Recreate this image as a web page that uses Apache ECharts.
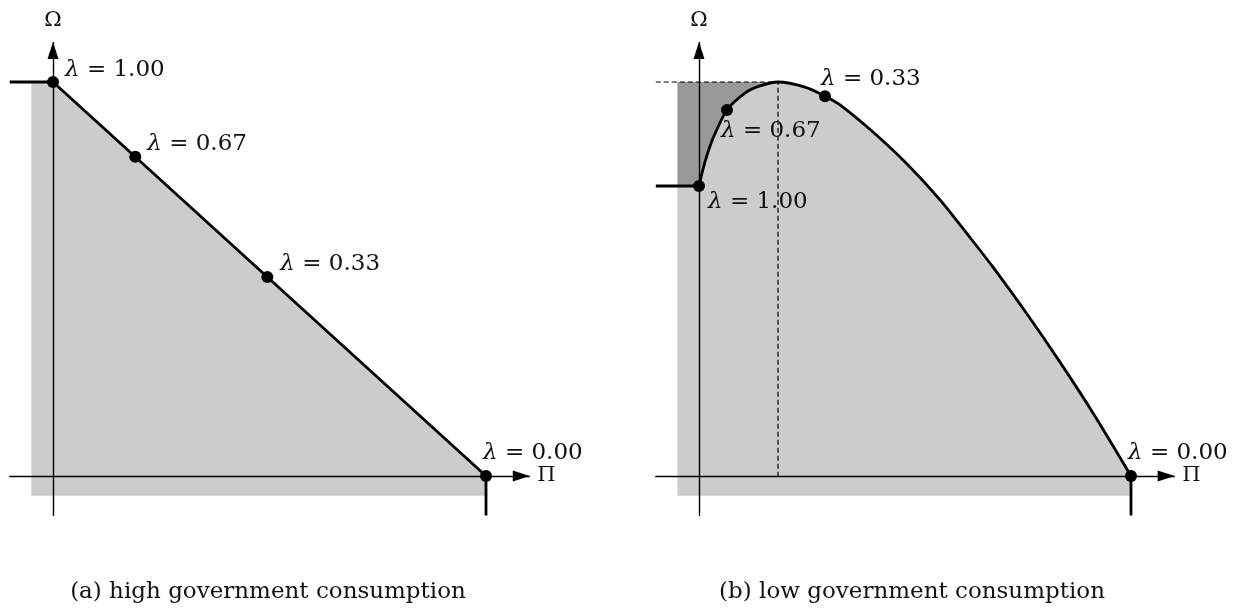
<!DOCTYPE html>
<html>
<head>
<meta charset="utf-8">
<script src="https://cdn.jsdelivr.net/npm/echarts@6/dist/echarts.min.js"></script>
<style>
  html, body { margin: 0; background: #fff; }
  #main { width: 1237px; height: 612px; }
</style>
</head>
<body>
<div id="main"></div>
<script>
// (a) high government consumption: straight frontier
var lineA_pi = [-0.1, 0, 1, 1];
var lineA_om = [1, 1, 0, -0.1];
var ptsA_pi = [0, 0.19, 0.495, 1];
var ptsA_om = [1, 0.81, 0.505, 0];
var ptsA_lam = ['1.00', '0.67', '0.33', '0.00'];

// (b) low government consumption: curved frontier
var curveB_pi = [0, 0.0093, 0.0208, 0.0347, 0.0648, 0.1065, 0.1412, 0.1829, 0.2454, 0.2917, 0.3264, 0.4028, 0.4815, 0.5579, 0.6319, 0.6806, 0.7593, 0.8356, 0.912, 1];
var curveB_om = [0.736, 0.779, 0.822, 0.863, 0.929, 0.972, 0.990, 1.0, 0.987, 0.964, 0.942, 0.873, 0.792, 0.701, 0.599, 0.530, 0.411, 0.289, 0.160, 0];
var ptsB_pi = [0, 0.0648, 0.2917, 1];
var ptsB_om = [0.736, 0.929, 0.964, 0];
var ptsB_lam = ['1.00', '0.67', '0.33', '0.00'];
var peakB = [0.1829, 1.0];

var captions = ['(a) high government consumption', '(b) low government consumption'];

// shaded region reaches a bit past the axes
var fillEdge = -0.05;
var axisMin = -0.1, axisMax = 1.1;

var serif = 'DejaVu Serif';
var txt = '#111';

function zip(xs, ys) {
  return xs.map(function (x, i) { return [x, ys[i]]; });
}

// label offsets (px) from each point: [dx to text start, dy to text middle]
var labOffA = [[12, -12], [12, -13], [13, -13], [-3, -23]];
var labOffB = [[9, 16], [-6, 21], [-4, -17], [-3, -23]];

function pointSeries(idx, pis, oms, lams, offs) {
  return {
    type: 'scatter', xAxisIndex: idx, yAxisIndex: idx, z: 5,
    symbol: 'circle', symbolSize: 12,
    itemStyle: { color: '#000', opacity: 1 },
    data: pis.map(function (p, i) {
      return {
        value: [p, oms[i]],
        label: {
          show: true, opacity: 1, color: txt,
          position: [6 + offs[i][0], 6 + offs[i][1]],
          align: 'left', verticalAlign: 'middle',
          formatter: '{l|λ}{n| = ' + lams[i] + '}',
          rich: {
            l: { fontFamily: serif, fontStyle: 'italic', fontSize: 23, color: txt },
            n: { fontFamily: serif, fontSize: 23, color: txt }
          }
        }
      };
    })
  };
}

function area(idx, data, origin, color, smooth) {
  return {
    type: 'line', xAxisIndex: idx, yAxisIndex: idx, z: 1,
    data: data, showSymbol: false, smooth: smooth || false,
    lineStyle: { width: 0, opacity: 0 },
    areaStyle: { color: color, opacity: 1, origin: origin }
  };
}

function stroke(idx, data, width, smooth, dashed) {
  return {
    type: 'line', xAxisIndex: idx, yAxisIndex: idx, z: 3,
    data: data, showSymbol: false, smooth: smooth || false,
    lineStyle: { color: '#000', width: width, opacity: 1, type: dashed ? [5, 3] : 'solid', cap: 'butt' }
  };
}

function axisPair(idx) {
  var common = {
    type: 'value', gridIndex: idx, min: axisMin, max: axisMax, z: 2,
    splitLine: { show: false }, axisTick: { show: false }, axisLabel: { show: false },
    axisLine: {
      show: true, onZero: true,
      symbol: ['none', 'triangle'], symbolSize: [11, 17], symbolOffset: [0, -8],
      lineStyle: { color: '#000', width: 1.4 }
    },
    nameTextStyle: { fontFamily: serif, fontSize: 21, color: txt }
  };
  return {
    x: Object.assign({}, common, { name: 'Π', nameLocation: 'end', nameGap: 8 }),
    y: Object.assign({}, common, { name: 'Ω', nameLocation: 'end', nameGap: 12 })
  };
}

var ax0 = axisPair(0), ax1 = axisPair(1);

// fill polygon for panel (a): from left edge along the frontier
var fillA = [[fillEdge, lineA_om[1]]].concat(zip(lineA_pi, lineA_om).filter(function (p) {
  return p[0] >= 0 && p[1] >= 0;
}));
var curveB = zip(curveB_pi, curveB_om);
var om0 = curveB_om[0];
var smoothB = 0.3;

var capFont = '23px "DejaVu Serif"';

var option = {
  animation: false,
  backgroundColor: '#fff',
  grid: [
    { left: 9.7, top: 42.6, width: 519.6, height: 472.8 },
    { left: 655.8, top: 42.6, width: 518.4, height: 472.8 }
  ],
  xAxis: [ax0.x, ax1.x],
  yAxis: [ax0.y, ax1.y],
  series: [
    // panel (a)
    area(0, fillA, fillEdge, '#cccccc'),
    stroke(0, zip(lineA_pi, lineA_om), 2.8),
    pointSeries(0, ptsA_pi, ptsA_om, ptsA_lam, labOffA),
    // panel (b)
    area(1, [[fillEdge, peakB[1]], [peakB[0], peakB[1]]], om0, '#999999'),
    area(1, [[fillEdge, om0], [0, om0]], fillEdge, '#cccccc'),
    area(1, curveB, fillEdge, '#cccccc', smoothB),
    stroke(1, [[axisMin, peakB[1]], [peakB[0], peakB[1]], [peakB[0], 0]], 1.2, false, true),
    stroke(1, [[axisMin, om0], [0, om0]], 2.8),
    stroke(1, [[1, 0], [1, axisMin]], 2.8),
    stroke(1, curveB, 2.8, smoothB),
    pointSeries(1, ptsB_pi, ptsB_om, ptsB_lam, labOffB)
  ],
  graphic: [
    { type: 'text', x: 268, y: 592, style: { text: captions[0], align: 'center', verticalAlign: 'middle', font: capFont, fill: txt } },
    { type: 'text', x: 912, y: 592, style: { text: captions[1], align: 'center', verticalAlign: 'middle', font: capFont, fill: txt } }
  ]
};

var chart = echarts.init(document.getElementById('main'));
chart.setOption(option);
</script>
</body>
</html>
